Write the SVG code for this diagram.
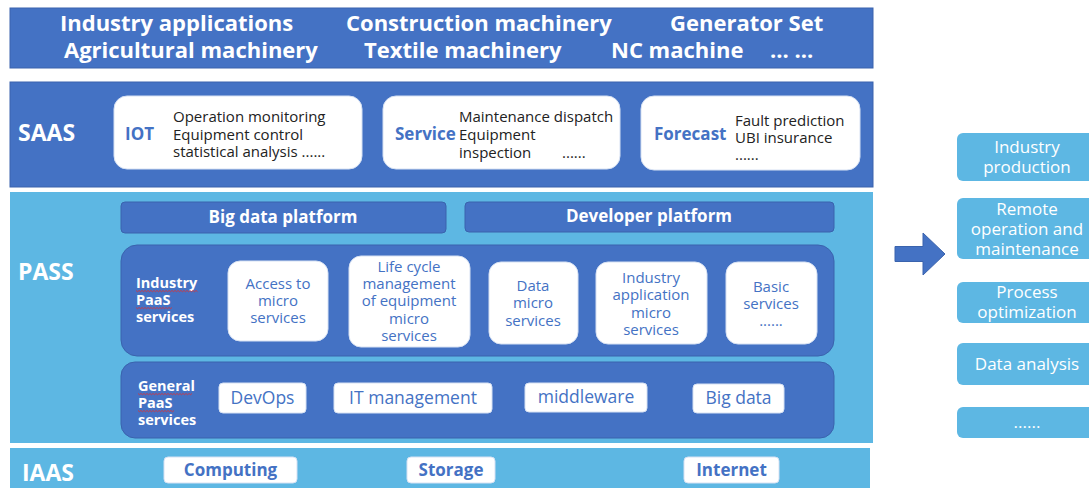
<svg xmlns="http://www.w3.org/2000/svg" width="1089" height="488" viewBox="0 0 1089 488">
  <style>
    text { font-family: "Open Sans", "Noto Sans", "Liberation Sans", sans-serif; }
    .band-dark { fill: #4472C4; stroke: #3A63AD; stroke-width: 1; }
    .band-light { fill: #5DB7E3; }
    .inner { fill: #4472C4; stroke: #3A63AD; stroke-width: 1; }
    .card { fill: #FFFFFF; stroke: #D6E1F3; stroke-width: 1; }
    .head { fill: #FFFFFF; font-weight: 700; font-size: 22px; }
    .layer { fill: #FFFFFF; font-weight: 700; font-size: 23px; }
    .bar { fill: #FFFFFF; font-weight: 700; font-size: 17px; text-anchor: middle; }
    .tag { fill: #4472C4; font-weight: 700; font-size: 17px; }
    .desc { fill: #222222; font-size: 15px; }
    .svc { fill: #4472C4; font-size: 15px; text-anchor: middle; }
    .grp { fill: #FFFFFF; font-weight: 700; font-size: 14.5px; }
    .gen { fill: #4472C4; font-size: 17.5px; text-anchor: middle; }
    .iaas { fill: #4472C4; font-weight: 700; font-size: 17px; text-anchor: middle; }
    .side { fill: #5DB7E3; }
    .side-t { fill: #FFFFFF; font-size: 17px; text-anchor: middle; }
    .squiggle { fill: none; stroke: #E03030; stroke-width: 0.8; }
  </style>

  <!-- Application band -->
  <g id="applications">
    <rect class="band-dark" x="10" y="8" width="863" height="60"/>
    <text class="head" x="60" y="31">Industry applications</text>
    <text class="head" x="346" y="31">Construction machinery</text>
    <text class="head" x="670" y="31">Generator Set</text>
    <text class="head" x="64" y="58">Agricultural machinery</text>
    <text class="head" x="364" y="58">Textile machinery</text>
    <text class="head" x="611" y="58">NC machine</text>
    <text class="head" x="770" y="58">... ...</text>
  </g>

  <!-- SAAS layer -->
  <g id="saas">
    <rect class="band-dark" x="10" y="82" width="863" height="105"/>
    <text class="layer" x="18" y="141">SAAS</text>
  </g>
  <g id="saas-iot">
    <rect class="card" x="114" y="96" width="248" height="73" rx="13"/>
    <text class="tag" x="125" y="140">IOT</text>
    <text class="desc" x="173" y="122">Operation monitoring</text>
    <text class="desc" x="173" y="140">Equipment control</text>
    <text class="desc" x="173" y="157">statistical analysis  ......</text>
  </g>
  <g id="saas-service">
    <rect class="card" x="383" y="96" width="237" height="73" rx="13"/>
    <text class="tag" x="395" y="140">Service</text>
    <text class="desc" x="459" y="122">Maintenance dispatch</text>
    <text class="desc" x="459" y="140">Equipment</text>
    <text class="desc" x="459" y="158">inspection</text>
    <text class="desc" x="562" y="158">......</text>
  </g>
  <g id="saas-forecast">
    <rect class="card" x="641" y="96" width="219" height="74" rx="13"/>
    <text class="tag" x="654" y="140">Forecast</text>
    <text class="desc" x="735" y="126">Fault prediction</text>
    <text class="desc" x="735" y="143">UBI insurance</text>
    <text class="desc" x="735" y="160">......</text>
  </g>

  <!-- PASS layer -->
  <g id="pass">
    <rect class="band-light" x="10" y="192" width="863" height="251"/>
    <text class="layer" x="18" y="280">PASS</text>
  </g>
  <g id="big-data-platform">
    <rect class="inner" x="121" y="202" width="325" height="31" rx="4"/>
    <text class="bar" x="283" y="223">Big data platform</text>
  </g>
  <g id="developer-platform">
    <rect class="inner" x="465" y="202" width="369" height="30" rx="4"/>
    <text class="bar" x="649" y="222">Developer platform</text>
  </g>

  <g id="industry-paas">
    <rect class="inner" x="121" y="245" width="713" height="111" rx="16"/>
    <text class="grp" x="136" y="288">Industry</text>
    <text class="grp" x="136" y="305">PaaS</text>
    <text class="grp" x="136" y="322">services</text>
    <path class="squiggle" d="M136 290.5 l1.5 1.2 l1.5 -1.2 l1.5 1.2 l1.5 -1.2 l1.5 1.2 l1.5 -1.2 l1.5 1.2 l1.5 -1.2 l1.5 1.2 l1.5 -1.2 l1.5 1.2 l1.5 -1.2 l1.5 1.2 l1.5 -1.2 l1.5 1.2 l1.5 -1.2 l1.5 1.2 l1.5 -1.2 l1.5 1.2 l1.5 -1.2 l1.5 1.2 l1.5 -1.2 l1.5 1.2 l1.5 -1.2 l1.5 1.2 l1.5 -1.2 l1.5 1.2 l1.5 -1.2 l1.5 1.2 l1.5 -1.2 l1.5 1.2 l1.5 -1.2 l1.5 1.2 l1.5 -1.2 l1.5 1.2 l1.5 -1.2 l1.5 1.2 l1.5 -1.2 l1.5 1.2 l1.5 -1.2 l1.5 1.2"/>
    <path class="squiggle" d="M136 307.5 l1.5 1.2 l1.5 -1.2 l1.5 1.2 l1.5 -1.2 l1.5 1.2 l1.5 -1.2 l1.5 1.2 l1.5 -1.2 l1.5 1.2 l1.5 -1.2 l1.5 1.2 l1.5 -1.2 l1.5 1.2 l1.5 -1.2 l1.5 1.2 l1.5 -1.2 l1.5 1.2 l1.5 -1.2 l1.5 1.2 l1.5 -1.2 l1.5 1.2 l1.5 -1.2 l1.5 1.2 l1.5 -1.2"/>
  </g>
  <g id="access-micro">
    <rect class="card" x="228" y="261" width="100" height="80" rx="12"/>
    <text class="svc" x="278" y="289">Access to</text>
    <text class="svc" x="278" y="306">micro</text>
    <text class="svc" x="278" y="323">services</text>
  </g>
  <g id="lifecycle-micro">
    <rect class="card" x="349" y="256" width="121" height="91" rx="12"/>
    <text class="svc" x="409" y="272">Life cycle</text>
    <text class="svc" x="409" y="289">management</text>
    <text class="svc" x="409" y="306">of equipment</text>
    <text class="svc" x="409" y="324">micro</text>
    <text class="svc" x="409" y="341">services</text>
  </g>
  <g id="data-micro">
    <rect class="card" x="489" y="262" width="89" height="82" rx="12"/>
    <text class="svc" x="533" y="291">Data</text>
    <text class="svc" x="533" y="308">micro</text>
    <text class="svc" x="533" y="326">services</text>
  </g>
  <g id="app-micro">
    <rect class="card" x="596" y="262" width="111" height="82" rx="12"/>
    <text class="svc" x="651" y="283">Industry</text>
    <text class="svc" x="651" y="300">application</text>
    <text class="svc" x="651" y="318">micro</text>
    <text class="svc" x="651" y="335">services</text>
  </g>
  <g id="basic-services">
    <rect class="card" x="726" y="262" width="91" height="82" rx="12"/>
    <text class="svc" x="771" y="292">Basic</text>
    <text class="svc" x="771" y="309">services</text>
    <text class="svc" x="771" y="326">......</text>
  </g>

  <g id="general-paas">
    <rect class="inner" x="121" y="362" width="713" height="76" rx="14"/>
    <text class="grp" x="138" y="391">General</text>
    <text class="grp" x="138" y="408">PaaS</text>
    <text class="grp" x="138" y="425">services</text>
    <path class="squiggle" d="M138 393.5 l1.5 1.2 l1.5 -1.2 l1.5 1.2 l1.5 -1.2 l1.5 1.2 l1.5 -1.2 l1.5 1.2 l1.5 -1.2 l1.5 1.2 l1.5 -1.2 l1.5 1.2 l1.5 -1.2 l1.5 1.2 l1.5 -1.2 l1.5 1.2 l1.5 -1.2 l1.5 1.2 l1.5 -1.2 l1.5 1.2 l1.5 -1.2 l1.5 1.2 l1.5 -1.2 l1.5 1.2 l1.5 -1.2 l1.5 1.2 l1.5 -1.2 l1.5 1.2 l1.5 -1.2 l1.5 1.2 l1.5 -1.2 l1.5 1.2 l1.5 -1.2 l1.5 1.2 l1.5 -1.2 l1.5 1.2 l1.5 -1.2"/>
    <path class="squiggle" d="M138 410.5 l1.5 1.2 l1.5 -1.2 l1.5 1.2 l1.5 -1.2 l1.5 1.2 l1.5 -1.2 l1.5 1.2 l1.5 -1.2 l1.5 1.2 l1.5 -1.2 l1.5 1.2 l1.5 -1.2 l1.5 1.2 l1.5 -1.2 l1.5 1.2 l1.5 -1.2 l1.5 1.2 l1.5 -1.2 l1.5 1.2 l1.5 -1.2 l1.5 1.2 l1.5 -1.2 l1.5 1.2 l1.5 -1.2"/>
  </g>
  <g id="devops">
    <rect class="card" x="219" y="383" width="87" height="30" rx="4"/>
    <text class="gen" x="262.5" y="404">DevOps</text>
  </g>
  <g id="it-management">
    <rect class="card" x="334" y="383" width="158" height="30" rx="4"/>
    <text class="gen" x="413" y="404">IT management</text>
  </g>
  <g id="middleware">
    <rect class="card" x="525" y="383" width="122" height="29" rx="4"/>
    <text class="gen" x="586" y="403">middleware</text>
  </g>
  <g id="big-data">
    <rect class="card" x="693" y="384" width="91" height="29" rx="4"/>
    <text class="gen" x="738.5" y="404">Big data</text>
  </g>

  <!-- IAAS layer -->
  <g id="iaas">
    <rect class="band-light" x="10" y="448" width="860" height="40"/>
    <text class="layer" x="22" y="481">IAAS</text>
  </g>
  <g id="computing">
    <rect class="card" x="164" y="457" width="133" height="26" rx="4"/>
    <text class="iaas" x="230.5" y="476">Computing</text>
  </g>
  <g id="storage">
    <rect class="card" x="407" y="457" width="88" height="26" rx="4"/>
    <text class="iaas" x="451" y="476">Storage</text>
  </g>
  <g id="internet">
    <rect class="card" x="684" y="457" width="95" height="26" rx="4"/>
    <text class="iaas" x="731.5" y="476">Internet</text>
  </g>

  <!-- Arrow towards the scenario column -->
  <g id="connectors">
    <path d="M895 246.5 H923 V233 L945 254 L923 275 V261.5 H895 Z" fill="#4472C4" stroke="#3A63AD" stroke-width="1"/>
  </g>

  <!-- Application scenarios -->
  <g id="scenario-production">
    <rect class="side" x="957" y="133" width="140" height="48" rx="6"/>
    <text class="side-t" x="1027" y="153">Industry</text>
    <text class="side-t" x="1027" y="173">production</text>
  </g>
  <g id="scenario-remote">
    <rect class="side" x="957" y="198" width="140" height="61" rx="6"/>
    <text class="side-t" x="1027" y="215">Remote</text>
    <text class="side-t" x="1027" y="235">operation and</text>
    <text class="side-t" x="1027" y="255">maintenance</text>
  </g>
  <g id="scenario-process">
    <rect class="side" x="957" y="282" width="140" height="41" rx="6"/>
    <text class="side-t" x="1027" y="298">Process</text>
    <text class="side-t" x="1027" y="318">optimization</text>
  </g>
  <g id="scenario-data">
    <rect class="side" x="957" y="343" width="140" height="42" rx="6"/>
    <text class="side-t" x="1027" y="370">Data analysis</text>
  </g>
  <g id="scenario-more">
    <rect class="side" x="957" y="407" width="140" height="31" rx="6"/>
    <text class="side-t" x="1027" y="428">......</text>
  </g>
</svg>
